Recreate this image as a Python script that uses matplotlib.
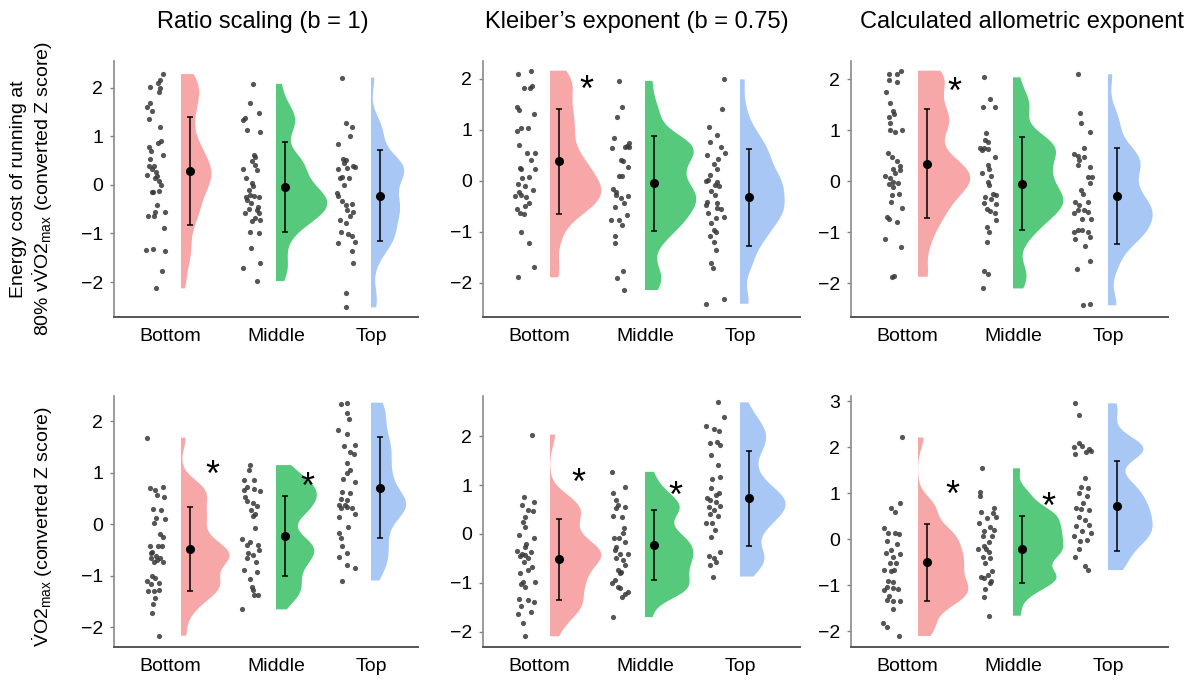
import numpy as np
import matplotlib.pyplot as plt

plt.rcParams['font.family'] = ['Liberation Sans', 'DejaVu Sans']
plt.rcParams['mathtext.fontset'] = 'custom'
plt.rcParams['mathtext.rm'] = 'Liberation Sans'
plt.rcParams['mathtext.it'] = 'Liberation Sans:italic'
plt.rcParams['mathtext.bf'] = 'Liberation Sans:bold'

groups = ["Bottom", "Middle", "Top"]
colors = ["#F7A7A7", "#56C97C", "#A8C7F4"]
titles = ["Ratio scaling (b = 1)", "Kleiber\u2019s exponent (b = 0.75)", "Calculated allometric exponent"]

# ---------------- energy cost of running (Z scores) ----------------
ec_ratio_bot = [2.28, 2.16, 2.09, 2.02, 2.00, 1.91, 1.68, 1.60, 1.53, 1.36, 1.20, 0.91, 0.86, 0.78, 0.69, 0.62,
                0.53, 0.38, 0.33, 0.21, 0.27, 0.19, 0.14, 0.07, 0.00, -0.14, -0.15, -0.12, -0.41, -0.55, -0.56,
                -0.65, -0.65, -0.89, -1.34, -1.32, -1.37, -1.78, -2.13, 0.38]
ec_ratio_mid = [2.08, 1.68, 1.48, 1.37, 1.34, 1.13, 1.08, 0.62, 0.57, 0.49, 0.41, 0.33, 0.30, 0.14, 0.03, -0.03,
                -0.10, -0.21, -0.23, -0.24, -0.24, -0.38, -0.45, -0.50, -0.58, -0.57, -0.69, -0.72, -0.75, -0.98,
                -1.00, -1.30, -1.61, -1.72, -1.98, -0.31, -0.51]
ec_ratio_top = [2.21, 1.27, 1.19, 1.00, 0.84, 0.53, 0.51, 0.38, 0.37, 0.34, 0.32, 0.17, 0.14, 0.15, 0.00, -0.16,
                -0.23, -0.34, -0.39, -0.41, -0.51, -0.55, -0.73, -0.79, -0.98, -1.02, -1.06, -1.17, -1.20, -1.37,
                -1.61, -2.23, -2.52, 0.45, -0.65]

ec_kleiber_bot = [2.10, 2.16, 1.82, 1.82, 1.86, 1.44, 1.39, 1.31, 1.03, 1.03, 0.97, 0.71, 0.54, 0.54, 0.40, 0.25,
                  0.23, 0.23, 0.07, 0.05, -0.07, -0.10, -0.18, -0.21, -0.28, -0.29, -0.44, -0.49, -0.56, -0.63,
                  -0.65, -1.01, -1.21, -1.69, -1.89, -0.31]
ec_kleiber_mid = [1.96, 1.44, 1.26, 0.84, 0.64, 0.66, 0.69, 0.67, 0.41, 0.38, 0.27, 0.09, 0.10, -0.16, -0.21,
                  -0.29, -0.34, -0.43, -0.52, -0.67, -0.77, -0.77, -0.86, -1.09, -1.22, -1.77, -1.90, -2.14,
                  -0.28, 0.74]
ec_kleiber_top = [1.99, 1.41, 1.05, 0.90, 0.77, 0.67, 0.54, 0.51, 0.43, 0.33, 0.23, 0.12, 0.02, -0.03, -0.08,
                  -0.01, -0.11, -0.19, -0.28, -0.41, -0.44, -0.47, -0.54, -0.56, -0.63, -0.73, -0.70, -0.83,
                  -0.96, -1.01, -1.09, -1.19, -1.35, -1.61, -1.71, -2.41, -2.32]

ec_allo_bot = [2.10, 2.10, 2.17, 1.99, 1.95, 1.76, 1.53, 1.37, 1.32, 1.27, 1.14, 1.01, 0.97, 1.01, 0.55, 0.48,
               0.39, 0.30, 0.25, 0.22, 0.10, 0.06, -0.01, -0.04, -0.06, -0.11, -0.27, -0.25, -0.40, -0.53, -0.69,
               -0.73, -0.79, -1.14, -1.28, -1.87, -1.86, 0.16]
ec_allo_mid = [2.04, 1.61, 1.45, 1.45, 0.94, 0.82, 0.78, 0.65, 0.65, 0.63, 0.48, 0.32, 0.25, 0.16, 0.10, -0.01,
               -0.07, -0.25, -0.27, -0.30, -0.35, -0.45, -0.42, -0.55, -0.58, -0.63, -0.76, -0.89, -0.99, -1.18,
               -1.76, -1.82, -2.10, 0.61]
ec_allo_top = [2.10, 1.35, 1.14, 0.97, 0.65, 0.54, 0.50, 0.47, 0.32, 0.29, 0.09, 0.08, -0.03, -0.17, -0.24,
               -0.40, -0.46, -0.40, -0.56, -0.62, -0.56, -0.60, -0.73, -0.73, -0.95, -0.99, -0.95, -0.99, -1.09,
               -1.14, -1.27, -1.56, -1.71, -2.43, -2.41, 0.42]

# ---------------- VO2max (Z scores) ----------------
vo2_ratio_bot = [1.68, 0.70, 0.67, 0.72, 0.57, 0.54, 0.29, 0.27, 0.12, 0.10, 0.03, -0.19, -0.24, -0.43, -0.42,
                 -0.43, -0.53, -0.61, -0.66, -0.66, -0.74, -0.74, -0.70, -1.01, -1.05, -1.09, -1.14, -1.16,
                 -1.30, -1.30, -1.27, -1.43, -1.55, -1.72, -2.16, -0.56]
vo2_ratio_mid = [1.15, 1.05, 0.86, 0.86, 0.73, 0.68, 0.65, 0.54, 0.46, 0.41, 0.35, 0.28, 0.21, 0.16, -0.08, -0.29,
                 -0.34, -0.40, -0.40, -0.56, -0.59, -0.66, -0.74, -0.88, -0.92, -1.07, -1.21, -1.37, -1.37, -1.28,
                 -1.65, 0.67, -0.50]
vo2_ratio_top = [2.34, 2.36, 2.16, 2.05, 1.83, 1.76, 1.52, 1.54, 1.41, 1.37, 1.19, 1.00, 1.05, 0.87, 0.83, 0.63,
                 0.60, 0.50, 0.47, 0.37, 0.37, 0.33, 0.31, 0.20, 0.14, -0.05, -0.17, -0.27, -0.42, -0.56, -0.63,
                 -0.79, -0.85, -1.09, 0.31]

vo2_kleiber_bot = [2.03, 0.76, 0.66, 0.59, 0.49, 0.46, 0.35, 0.25, 0.14, -0.03, -0.09, -0.20, -0.34, -0.40, -0.36,
                   -0.43, -0.46, -0.50, -0.57, -0.67, -0.79, -0.74, -0.98, -1.02, -0.98, -1.08, -1.32, -1.34,
                   -1.40, -1.47, -1.59, -1.64, -1.81, -2.09, -0.26]
vo2_kleiber_mid = [1.27, 0.97, 0.83, 0.70, 0.59, 0.56, 0.53, 0.34, 0.37, 0.12, 0.01, -0.09, -0.09, -0.16, -0.27,
                   -0.33, -0.40, -0.40, -0.50, -0.53, -0.63, -0.74, -0.77, -0.80, -1.00, -1.08, -1.11, -1.18,
                   -1.28, -1.23, -1.70, -0.94]
vo2_kleiber_top = [2.69, 2.39, 2.21, 2.14, 2.11, 1.87, 1.85, 1.82, 1.62, 1.41, 1.12, 1.16, 0.93, 0.80, 0.73, 0.70,
                   0.66, 0.57, 0.56, 0.50, 0.41, 0.37, 0.22, 0.08, -0.06, -0.36, -0.46, -0.50, -0.63, -0.57,
                   -0.87, 0.83, 0.23]

vo2_allo_bot = [2.21, 0.78, 0.67, 0.60, 0.24, 0.14, 0.14, 0.12, -0.03, -0.10, -0.29, -0.32, -0.38, -0.51, -0.52,
                -0.67, -0.70, -0.67, -0.90, -0.92, -1.03, -1.06, -1.09, -1.11, -1.24, -1.35, -1.32, -1.35, -1.52,
                -1.81, -1.91, -2.10, -0.23]
vo2_allo_mid = [1.54, 1.03, 0.94, 0.60, 0.58, 0.49, 0.46, 0.35, 0.27, 0.19, 0.17, 0.06, 0.06, -0.05, -0.15, -0.22,
                -0.22, -0.27, -0.38, -0.41, -0.52, -0.70, -0.77, -0.81, -0.85, -0.90, -0.96, -1.09, -1.26, -1.66,
                0.67]
vo2_allo_top = [2.95, 2.70, 2.08, 2.01, 2.02, 1.97, 1.90, 1.85, 1.92, 1.32, 1.14, 1.11, 1.01, 0.94, 0.67, 0.65,
                0.64, 0.49, 0.42, 0.31, 0.29, 0.17, 0.13, 0.06, -0.03, -0.02, -0.22, -0.38, -0.58, -0.67, 0.78]

# horizontal jitter of each point (left of the group position)
jit_ec_ratio_bot = [-0.19, -0.22, -0.24, -0.33, -0.22, -0.23, -0.33, -0.36, -0.30, -0.34, -0.22, -0.21, -0.24, -0.34,
                    -0.32, -0.19, -0.33, -0.28, -0.31, -0.36, -0.26, -0.25, -0.27, -0.23, -0.21, -0.31, -0.29, -0.23,
                    -0.25, -0.27, -0.17, -0.35, -0.28, -0.18, -0.37, -0.29, -0.17, -0.20, -0.26, -0.34]
jit_ec_ratio_mid = [-0.24, -0.27, -0.18, -0.33, -0.35, -0.30, -0.17, -0.23, -0.22, -0.25, -0.22, -0.35, -0.20, -0.32,
                    -0.25, -0.24, -0.28, -0.27, -0.23, -0.18, -0.32, -0.26, -0.19, -0.28, -0.18, -0.33, -0.22, -0.17,
                    -0.25, -0.27, -0.18, -0.26, -0.17, -0.35, -0.20, -0.30, -0.20]
jit_ec_ratio_top = [-0.30, -0.26, -0.20, -0.22, -0.35, -0.29, -0.26, -0.19, -0.17, -0.25, -0.35, -0.31, -0.33, -0.23,
                    -0.28, -0.36, -0.35, -0.31, -0.20, -0.26, -0.25, -0.19, -0.33, -0.26, -0.32, -0.24, -0.20, -0.17,
                    -0.35, -0.20, -0.19, -0.26, -0.26, -0.28, -0.22]
jit_ec_kleiber_bot = [-0.34, -0.20, -0.27, -0.21, -0.19, -0.35, -0.33, -0.17, -0.30, -0.23, -0.35, -0.33, -0.24, -0.16,
                      -0.20, -0.32, -0.30, -0.16, -0.22, -0.29, -0.34, -0.26, -0.18, -0.33, -0.30, -0.37, -0.22, -0.26,
                      -0.35, -0.32, -0.27, -0.31, -0.22, -0.17, -0.34, -0.25]
jit_ec_kleiber_mid = [-0.27, -0.24, -0.29, -0.33, -0.35, -0.21, -0.19, -0.17, -0.25, -0.23, -0.18, -0.27, -0.24, -0.34,
                      -0.31, -0.18, -0.25, -0.22, -0.32, -0.19, -0.36, -0.27, -0.24, -0.32, -0.32, -0.23, -0.29, -0.22,
                      -0.30, -0.17]
jit_ec_kleiber_top = [-0.17, -0.19, -0.33, -0.24, -0.32, -0.20, -0.16, -0.35, -0.23, -0.27, -0.24, -0.32, -0.34, -0.24,
                      -0.26, -0.36, -0.22, -0.31, -0.26, -0.35, -0.24, -0.36, -0.24, -0.20, -0.34, -0.25, -0.17, -0.31,
                      -0.27, -0.25, -0.32, -0.27, -0.25, -0.31, -0.28, -0.36, -0.17]
jit_ec_allo_bot = [-0.31, -0.22, -0.18, -0.31, -0.22, -0.34, -0.29, -0.26, -0.25, -0.31, -0.29, -0.29, -0.24, -0.17,
                   -0.32, -0.27, -0.22, -0.19, -0.26, -0.19, -0.35, -0.29, -0.26, -0.21, -0.30, -0.26, -0.27, -0.20,
                   -0.28, -0.17, -0.33, -0.31, -0.22, -0.35, -0.18, -0.27, -0.25, -0.24]
jit_ec_allo_mid = [-0.31, -0.24, -0.32, -0.19, -0.28, -0.29, -0.26, -0.35, -0.30, -0.26, -0.19, -0.26, -0.25, -0.33,
                   -0.23, -0.26, -0.25, -0.21, -0.18, -0.29, -0.23, -0.18, -0.30, -0.27, -0.24, -0.19, -0.18, -0.27,
                   -0.25, -0.27, -0.30, -0.26, -0.32, -0.33]
jit_ec_allo_top = [-0.32, -0.29, -0.28, -0.19, -0.25, -0.36, -0.32, -0.25, -0.32, -0.19, -0.21, -0.17, -0.19, -0.28,
                   -0.26, -0.35, -0.30, -0.21, -0.32, -0.36, -0.25, -0.21, -0.18, -0.27, -0.32, -0.36, -0.27, -0.21,
                   -0.19, -0.35, -0.24, -0.19, -0.33, -0.26, -0.19, -0.30]
jit_vo2_ratio_bot = [-0.36, -0.33, -0.27, -0.19, -0.25, -0.18, -0.29, -0.21, -0.26, -0.17, -0.28, -0.22, -0.19, -0.33,
                     -0.24, -0.20, -0.30, -0.26, -0.32, -0.22, -0.28, -0.19, -0.25, -0.30, -0.27, -0.36, -0.23, -0.32,
                     -0.35, -0.28, -0.23, -0.27, -0.29, -0.30, -0.23, -0.32]
jit_vo2_ratio_mid = [-0.27, -0.28, -0.34, -0.23, -0.31, -0.23, -0.17, -0.33, -0.31, -0.24, -0.20, -0.26, -0.22, -0.24,
                     -0.22, -0.36, -0.27, -0.31, -0.19, -0.29, -0.24, -0.31, -0.21, -0.34, -0.20, -0.27, -0.25, -0.23,
                     -0.19, -0.24, -0.36, -0.34, -0.18]
jit_vo2_ratio_top = [-0.32, -0.25, -0.25, -0.23, -0.35, -0.25, -0.28, -0.17, -0.22, -0.18, -0.25, -0.25, -0.22, -0.29,
                     -0.17, -0.31, -0.22, -0.32, -0.25, -0.34, -0.27, -0.25, -0.32, -0.17, -0.34, -0.24, -0.34, -0.32,
                     -0.31, -0.25, -0.34, -0.25, -0.17, -0.30, -0.20]
jit_vo2_kleiber_bot = [-0.19, -0.27, -0.17, -0.29, -0.23, -0.18, -0.26, -0.28, -0.26, -0.33, -0.17, -0.25, -0.35, -0.29,
                       -0.20, -0.26, -0.32, -0.23, -0.27, -0.19, -0.32, -0.23, -0.28, -0.31, -0.16, -0.26, -0.33, -0.23,
                       -0.17, -0.31, -0.20, -0.34, -0.28, -0.26, -0.26]
jit_vo2_kleiber_mid = [-0.35, -0.21, -0.34, -0.31, -0.28, -0.21, -0.30, -0.24, -0.34, -0.22, -0.23, -0.33, -0.27, -0.21,
                       -0.30, -0.32, -0.26, -0.18, -0.31, -0.23, -0.21, -0.28, -0.25, -0.26, -0.35, -0.28, -0.26, -0.18,
                       -0.24, -0.21, -0.34, -0.32]
jit_vo2_kleiber_top = [-0.23, -0.17, -0.36, -0.27, -0.22, -0.24, -0.32, -0.21, -0.31, -0.23, -0.29, -0.21, -0.31, -0.25,
                       -0.35, -0.32, -0.25, -0.21, -0.33, -0.27, -0.32, -0.23, -0.29, -0.26, -0.31, -0.21, -0.33, -0.27,
                       -0.32, -0.25, -0.28, -0.22, -0.36]
jit_vo2_allo_bot = [-0.17, -0.19, -0.28, -0.24, -0.36, -0.32, -0.24, -0.20, -0.33, -0.22, -0.34, -0.19, -0.26, -0.29,
                    -0.23, -0.36, -0.28, -0.25, -0.32, -0.26, -0.33, -0.26, -0.21, -0.36, -0.30, -0.26, -0.33, -0.19,
                    -0.26, -0.37, -0.33, -0.20, -0.28]
jit_vo2_allo_mid = [-0.33, -0.35, -0.35, -0.34, -0.21, -0.18, -0.27, -0.36, -0.24, -0.20, -0.30, -0.32, -0.22, -0.25,
                    -0.31, -0.37, -0.28, -0.25, -0.32, -0.24, -0.29, -0.22, -0.26, -0.34, -0.31, -0.23, -0.24, -0.29,
                    -0.31, -0.25, -0.20]
jit_vo2_allo_top = [-0.35, -0.31, -0.31, -0.36, -0.27, -0.20, -0.23, -0.35, -0.18, -0.24, -0.28, -0.21, -0.30, -0.22,
                    -0.34, -0.28, -0.20, -0.31, -0.24, -0.20, -0.34, -0.27, -0.18, -0.36, -0.29, -0.22, -0.31, -0.35,
                    -0.24, -0.21, -0.26]

# group mean and SD (error bars)
ec_ratio_mean, ec_ratio_sd = [0.29, -0.05, -0.22], [1.115, 0.925, 0.935]
ec_kleiber_mean, ec_kleiber_sd = [0.38, -0.05, -0.32], [1.03, 0.935, 0.95]
ec_allo_mean, ec_allo_sd = [0.35, -0.05, -0.28], [1.065, 0.91, 0.94]
vo2_ratio_mean, vo2_ratio_sd = [-0.48, -0.23, 0.71], [0.81, 0.775, 0.975]
vo2_kleiber_mean, vo2_kleiber_sd = [-0.52, -0.22, 0.73], [0.83, 0.72, 0.975]
vo2_allo_mean, vo2_allo_sd = [-0.50, -0.22, 0.72], [0.84, 0.72, 0.985]

# widest point of each half violin (x units)
ec_ratio_vw = [0.32, 0.54, 0.35]
ec_kleiber_vw = [0.54, 0.54, 0.47]
ec_allo_vw = [0.55, 0.53, 0.47]
vo2_ratio_vw = [0.51, 0.43, 0.37]
vo2_kleiber_vw = [0.54, 0.51, 0.48]
vo2_allo_vw = [0.53, 0.53, 0.47]

# significance stars (x, y)
stars = [[], [(1.385, 1.97)], [(1.38, 1.95)],
         [(1.33, 1.15), (2.33, 0.91)], [(1.30, 1.24), (2.32, 0.97)], [(1.36, 1.18), (2.37, 0.92)]]

panel_data = [
    [ec_ratio_bot, ec_ratio_mid, ec_ratio_top],
    [ec_kleiber_bot, ec_kleiber_mid, ec_kleiber_top],
    [ec_allo_bot, ec_allo_mid, ec_allo_top],
    [vo2_ratio_bot, vo2_ratio_mid, vo2_ratio_top],
    [vo2_kleiber_bot, vo2_kleiber_mid, vo2_kleiber_top],
    [vo2_allo_bot, vo2_allo_mid, vo2_allo_top],
]
panel_jit = [
    [jit_ec_ratio_bot, jit_ec_ratio_mid, jit_ec_ratio_top],
    [jit_ec_kleiber_bot, jit_ec_kleiber_mid, jit_ec_kleiber_top],
    [jit_ec_allo_bot, jit_ec_allo_mid, jit_ec_allo_top],
    [jit_vo2_ratio_bot, jit_vo2_ratio_mid, jit_vo2_ratio_top],
    [jit_vo2_kleiber_bot, jit_vo2_kleiber_mid, jit_vo2_kleiber_top],
    [jit_vo2_allo_bot, jit_vo2_allo_mid, jit_vo2_allo_top],
]
panel_mean = [ec_ratio_mean, ec_kleiber_mean, ec_allo_mean, vo2_ratio_mean, vo2_kleiber_mean, vo2_allo_mean]
panel_sd = [ec_ratio_sd, ec_kleiber_sd, ec_allo_sd, vo2_ratio_sd, vo2_kleiber_sd, vo2_allo_sd]
panel_vw = [ec_ratio_vw, ec_kleiber_vw, ec_allo_vw, vo2_ratio_vw, vo2_kleiber_vw, vo2_allo_vw]
panel_ylim = [(-2.72, 2.55), (-2.67, 2.35), (-2.66, 2.36), (-2.38, 2.49), (-2.31, 2.82), (-2.34, 3.11)]

# layout in pixels of a 1197 x 689 canvas
W, H = 1197, 689
col_left = [114, 483, 851]
col_width = [304, 317, 317]
row_top = [61, 396]
row_bottom = [317, 647]
px_per_group = 95.0
title_x = [0.49, 0.485, 0.54]

fig = plt.figure(figsize=(W / 100, H / 100), dpi=100)

for k in range(6):
    r, c = divmod(k, 3)
    ax = fig.add_axes([col_left[c] / W, 1 - row_bottom[r] / H,
                       col_width[c] / W, (row_bottom[r] - row_top[r]) / H])
    pos = [1, 2, 3]

    # half violins, trimmed to the data range
    vp = ax.violinplot(panel_data[k], positions=pos, widths=[2 * w for w in panel_vw[k]],
                       showextrema=False, bw_method=0.27, points=300, side="high")
    for body, col in zip(vp["bodies"], colors):
        body.set_facecolor(col)
        body.set_edgecolor("none")
        body.set_alpha(1)
        body.set_zorder(1)

    for i in range(3):
        vals = np.array(panel_data[k][i])
        jit = np.array(panel_jit[k][i])
        # raw points
        ax.scatter(pos[i] + jit, vals, s=14, color="#383838", alpha=0.85, linewidths=0, zorder=2)
        # mean +- SD
        ax.errorbar(pos[i] + 0.09, panel_mean[k][i], yerr=panel_sd[k][i], fmt="o", color="black",
                    ms=5.5, elinewidth=1.1, capsize=2.5, capthick=1.1, zorder=3)
    for sx, sy in stars[k]:
        ax.annotate("*", (sx, sy), xytext=(0, -8), textcoords="offset points",
                    ha="center", va="center", fontsize=26)

    x0 = 1 - 0.705
    ax.set_xlim(x0, x0 + col_width[c] / px_per_group)
    ax.set_ylim(*panel_ylim[k])
    ax.set_xticks([0.885, 2, 3])
    ax.set_xticklabels(groups)
    if k == 5:
        ax.set_yticks([-2, -1, 0, 1, 2, 3])
    else:
        ax.set_yticks([-2, -1, 0, 1, 2])
    ax.tick_params(axis="x", length=0, pad=8, labelsize=14)
    ax.tick_params(axis="y", length=3, width=1, color="#808080", pad=5, labelsize=14)
    ax.spines["top"].set_visible(False)
    ax.spines["right"].set_visible(False)
    ax.spines["left"].set_color("#8a8a8a")
    ax.spines["left"].set_linewidth(1.2)
    ax.spines["bottom"].set_color("#555555")
    ax.spines["bottom"].set_linewidth(1.4)
    if r == 0:
        ax.set_title(titles[c], fontsize=17, pad=24, x=title_x[c])

# row labels
fig.text(19 / W, 1 - 189 / H, "Energy cost of running at", rotation=90,
         ha="center", va="center", fontsize=14)
fig.text(43 / W, 1 - 189 / H, r"80% v$\dot{\mathrm{V}}$O2$_{\mathrm{max}}$ (converted Z score)",
         rotation=90, ha="center", va="center", fontsize=14)
fig.text(43 / W, 1 - 527 / H, r"$\dot{\mathrm{V}}$O2$_{\mathrm{max}}$ (converted Z score)",
         rotation=90, ha="center", va="center", fontsize=14)

fig.savefig("out.png", dpi=100)
plt.close(fig)
